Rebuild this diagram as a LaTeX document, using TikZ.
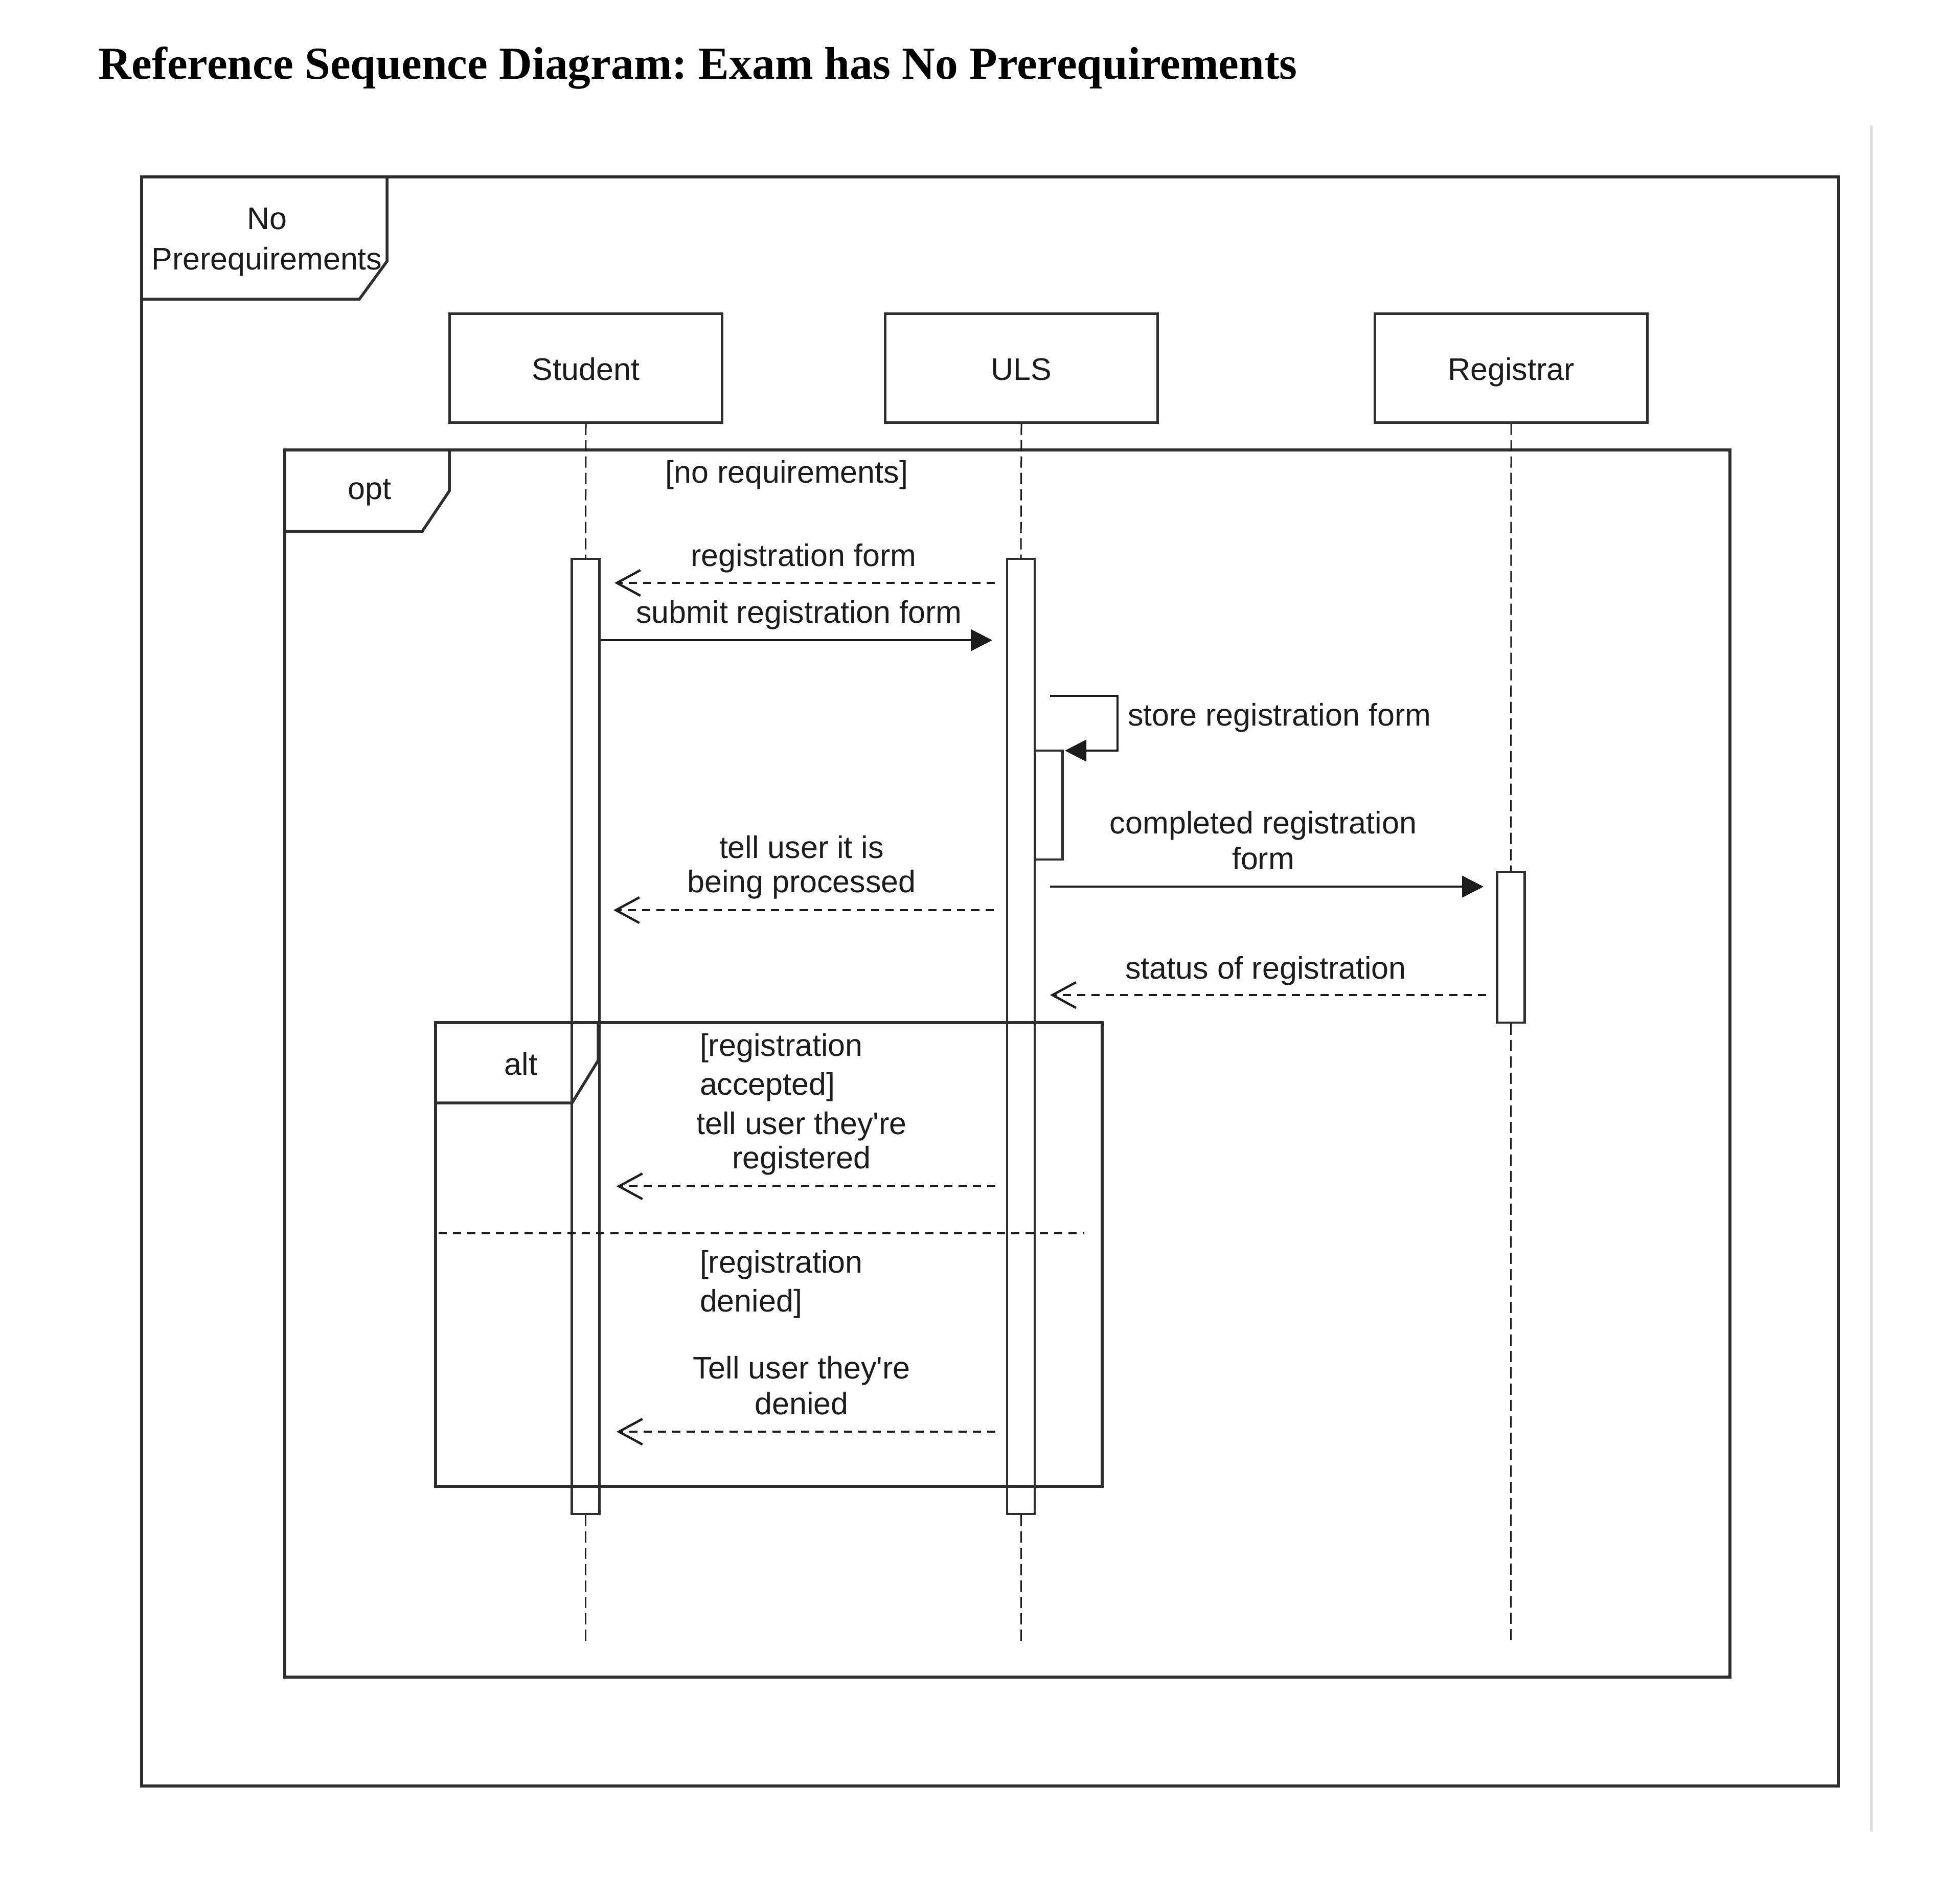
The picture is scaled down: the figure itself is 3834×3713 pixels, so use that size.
\documentclass[tikz,border=0pt]{standalone}
\usepackage{fontspec}
\setmainfont{Liberation Sans}
\newfontfamily\titlefont{Liberation Serif}
\usetikzlibrary{arrows.meta}
\definecolor{ink}{HTML}{1C1C1C}
\definecolor{edge}{HTML}{2E2E2E}
\frenchspacing
\begin{document}
\begin{tikzpicture}[x=0.1pt,y=-0.1pt,
  font=\fontsize{6.1}{6.8}\selectfont, text=ink,
  frame/.style={draw=edge, line width=0.55pt},
  lbox/.style={draw=edge, line width=0.5pt, fill=white, minimum width=53.3pt, minimum height=21.3pt, inner sep=0pt, text height=4.7pt, text depth=0pt},
  bar/.style={draw=edge, line width=0.45pt, fill=white, minimum width=5.4pt, inner sep=0pt},
  lifeline/.style={draw=ink, line width=0.3pt, dash pattern=on 2.2pt off 1pt},
  sync/.style={draw=ink, line width=0.45pt, -{Triangle[length=4.2pt,width=4.2pt]}},
  reply/.style={draw=ink, line width=0.4pt, dash pattern=on 1.6pt off 1.2pt, -{Straight Barb[length=4.6pt,width=5pt,line width=0.45pt]}},
  lbl/.style={inner sep=0pt, anchor=base, align=center},
  lbll/.style={inner sep=0pt, anchor=base west, align=left}
]
\useasboundingbox (0,0) rectangle (3834,3713);

% page edge artefact
\draw[gray!25, line width=0.5pt] (3660,245) -- (3660,3582);

% title
\node[inner sep=0pt, anchor=base west, font=\titlefont\bfseries\fontsize{8.95}{10}\selectfont, text=black] (title) at (191,154) {Reference Sequence Diagram: Exam has No Prerequirements};

% outer frame
\draw[frame] (277,346) rectangle (3596,3493);
\draw[frame] (757,346) -- (757,511) -- (703,585) -- (277,585);
\node[lbl, font=\fontsize{6.1}{7.9}\selectfont] (fname) at (522,527) {No\\Prerequirements};

% opt frame
\draw[frame] (557,880) rectangle (3384,3280);
\draw[frame] (879,880) -- (879,960) -- (826,1039) -- (557,1039);
\node[lbl] (optl) at (723,976) {opt};
\node[lbl] (optg) at (1539,944) {[no requirements]};

% lifeline heads
\node[lbox] (stu) at (1146,719.5) {Student};
\node[lbox] (uls) at (1998,719.5) {ULS};
\node[lbox] (reg) at (2956,719.5) {Registrar};

% activation bars
\node[bar, minimum height=186.8pt] (sbar) at (1145.5,2027) {};
\node[bar, minimum height=186.8pt] (ubar) at (1997,2027) {};
\node[bar, minimum height=29.5pt] (rbar) at (2955.5,1852.5) {};

% lifelines
\coordinate (send) at (1145.5,3213);
\coordinate (uend) at (1997,3213);
\coordinate (rend) at (2955.5,3213);
\draw[lifeline] (stu.south) -- (sbar.north);
\draw[lifeline] (sbar.south) -- (send);
\draw[lifeline] (uls.south) -- (ubar.north);
\draw[lifeline] (ubar.south) -- (uend);
\draw[lifeline] (reg.south) -- (rbar.north);
\draw[lifeline] (rbar.south) -- (rend);

% nested activation for self call
\node[bar, minimum height=21.3pt] (nbar) at (2051.5,1574.5) {};

% messages
\coordinate (m1a) at (1946,1140); \coordinate (m1b) at (1202,1140);
\draw[reply] (m1a) -- (m1b);
\node[lbl] (m1l) at (1572,1107) {registration form};

\coordinate (m2a) at (1175,1252); \coordinate (m2b) at (1941,1252);
\draw[sync] (m2a) -- (m2b);
\node[lbl] (m2l) at (1563,1218) {submit registration form};

\coordinate (m3a) at (2054,1361); \coordinate (m3b) at (2186,1361);
\coordinate (m3c) at (2186,1468); \coordinate (m3d) at (2083,1468);
\draw[sync] (m3a) -- (m3b) -- (m3c) -- (m3d);
\node[lbll] (m3l) at (2204,1419) {store registration form};

\coordinate (m4a) at (2054,1734); \coordinate (m4b) at (2902,1734);
\draw[sync] (m4a) -- (m4b);
\node[lbl, font=\fontsize{6.1}{7.0}\selectfont] (m4l) at (2471,1700) {completed registration\\form};

\coordinate (m5a) at (1944,1780); \coordinate (m5b) at (1200,1780);
\draw[reply] (m5a) -- (m5b);
\node[lbl, font=\fontsize{6.1}{6.7}\selectfont] (m5l) at (1568,1745) {tell user it is\\being processed};

\coordinate (m6a) at (2907,1946); \coordinate (m6b) at (2054,1946);
\draw[reply] (m6a) -- (m6b);
\node[lbl] (m6l) at (2476,1914) {status of registration};

% alt frame
\draw[frame] (852,2000) rectangle (2156,2907);
\draw[frame] (1170,2000) -- (1170,2074) -- (1119,2157) -- (852,2157);
\node[lbl] (altl) at (1019,2102) {alt};
\coordinate (sepa) at (858,2412); \coordinate (sepb) at (2121,2412);
\draw[draw=ink, line width=0.4pt, dash pattern=on 1.6pt off 1.2pt] (sepa) -- (sepb);

\node[lbll, font=\fontsize{6.1}{7.6}\selectfont] (g1) at (1367,2141) {[registration\\accepted]};
\coordinate (m7a) at (1947,2320); \coordinate (m7b) at (1206,2320);
\draw[reply] (m7a) -- (m7b);
\node[lbl, font=\fontsize{6.1}{6.7}\selectfont] (m7l) at (1568,2285) {tell user they\textquotesingle re\\registered};

\node[lbll, font=\fontsize{6.1}{7.6}\selectfont] (g2) at (1367,2565) {[registration\\denied]};
\coordinate (m8a) at (1947,2800); \coordinate (m8b) at (1206,2800);
\draw[reply] (m8a) -- (m8b);
\node[lbl, font=\fontsize{6.1}{7.0}\selectfont] (m8l) at (1568,2766) {Tell user they\textquotesingle re\\denied};
\end{tikzpicture}
\end{document}
